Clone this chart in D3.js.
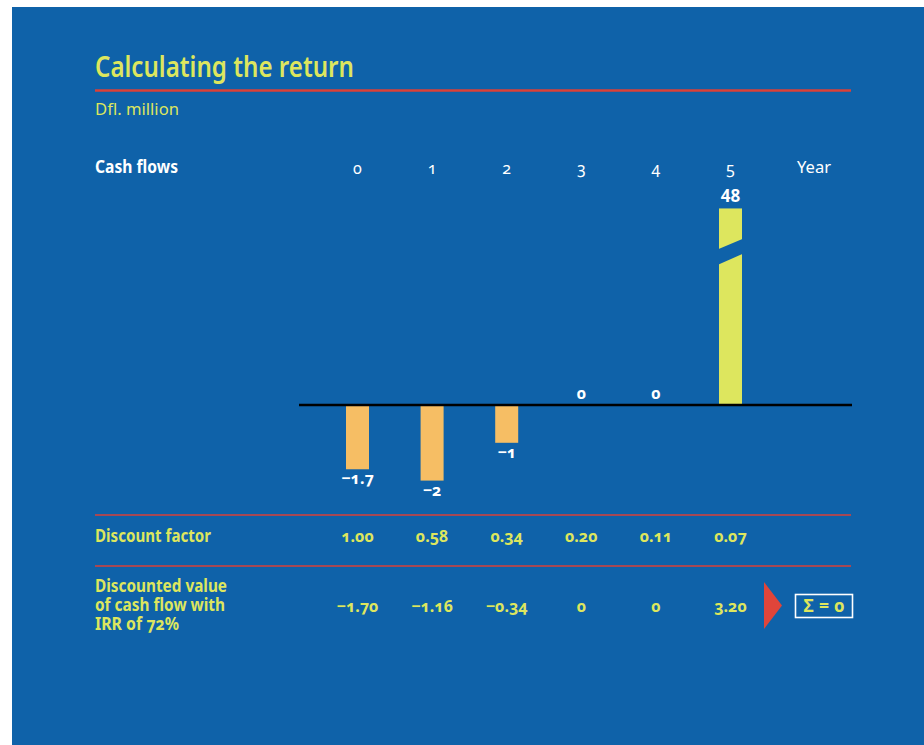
<!DOCTYPE html>
<html>
<head>
<meta charset="utf-8">
<script src="https://d3js.org/d3.v7.min.js"></script>
<style>
  body { margin: 0; background: #fff; }
  svg { display: block; }
  text { font-family: "Noto Sans", "Open Sans", sans-serif; }
  .num { font-feature-settings: "onum" 1; font-variant-numeric: oldstyle-nums; }
</style>
</head>
<body>
<div id="chart"></div>
<script>
// values
const years = [0, 1, 2, 3, 4, 5];
const cashFlows = [-1.7, -2, -1, 0, 0, 48];
const cashLabels = ["\u22121.7", "\u22122", "\u22121", "0", "0", "48"];
const discountFactors = ["1.00", "0.58", "0.34", "0.20", "0.11", "0.07"];
const discountedValues = ["\u22121.70", "\u22121.16", "\u22120.34", "0", "0", "3.20"];
const rowLines = ["Discounted value", "of cash flow with", "IRR of 72%"];
const barCap = 5.2;   // bars taller than this get a break

const colors = {
    bg: "#0f62a9",
    yellow: "#dde65e",
    orange: "#f6be64",
    red: "#db4138",
    white: "#ffffff"
};

class ReturnVis {
    constructor(parentElement) {
        this.parentElement = parentElement;
        this.initVis();
    }

    // the reference uses a condensed face, so squeeze the wide labels
    addLabel(x, y, txt, opts) {
        const vis = this;
        const t = vis.svg.append("text")
            .attr("x", x)
            .attr("y", y)
            .attr("fill", opts.fill)
            .attr("font-size", opts.size)
            .attr("font-weight", opts.weight || 400)
            .text(txt);
        if (opts.len) {
            t.attr("textLength", opts.len).attr("lengthAdjust", "spacingAndGlyphs");
        }
        if (opts.cls) t.attr("class", opts.cls);
        return t;
    }

    initVis() {
        const vis = this;

        vis.width = 924;
        vis.height = 745;

        vis.svg = d3.select("#" + vis.parentElement)
            .append("svg")
            .attr("width", vis.width)
            .attr("height", vis.height);

        vis.svg.append("rect")
            .attr("x", 12)
            .attr("y", 7)
            .attr("width", vis.width - 12)
            .attr("height", vis.height - 7)
            .attr("fill", colors.bg);

        vis.left = 95;
        vis.right = 851;

        vis.x = d3.scalePoint().domain(years).range([357.5, 730.5]);
        vis.y = d3.scaleLinear().domain([0, 1]).range([405, 405 - 37.8]);

        // title block
        vis.addLabel(vis.left, 77, "Calculating the return",
            { fill: colors.yellow, size: 28.5, weight: 600, len: 259 });

        vis.svg.append("line")
            .attr("x1", vis.left).attr("x2", vis.right)
            .attr("y1", 90.5).attr("y2", 90.5)
            .attr("stroke", colors.red)
            .attr("stroke-width", 2.5);

        vis.addLabel(vis.left, 115, "Dfl. million",
            { fill: colors.yellow, size: 17, len: 84 });

        vis.addLabel(vis.left, 173, "Cash flows",
            { fill: colors.white, size: 17.5, weight: 700, len: 83 });

        vis.addLabel(797, 173, "Year",
            { fill: colors.white, size: 17, len: 34 });

        vis.addLabel(vis.left, 542, "Discount factor",
            { fill: colors.yellow, size: 17.5, weight: 700, len: 116 });

        const rowLens = [132, 130, 84];
        rowLines.forEach((line, i) => {
            vis.addLabel(vis.left, 592 + i * 19, line,
                { fill: colors.yellow, size: 17.5, weight: 700, len: rowLens[i], cls: "num" });
        });

        [515, 566].forEach(yy => {
            vis.svg.append("line")
                .attr("x1", vis.left).attr("x2", vis.right)
                .attr("y1", yy).attr("y2", yy)
                .attr("stroke", colors.red)
                .attr("stroke-width", 1.5);
        });

        vis.barGroup = vis.svg.append("g").attr("class", "bars");
        vis.labelGroup = vis.svg.append("g").attr("class", "labels");
        vis.tableGroup = vis.svg.append("g").attr("class", "table");

        vis.wrangleData();
    }

    wrangleData() {
        const vis = this;

        vis.displayData = years.map((yr, i) => ({
            year: yr,
            value: cashFlows[i],
            shown: Math.min(cashFlows[i], barCap),
            broken: cashFlows[i] > barCap,
            label: cashLabels[i],
            factor: discountFactors[i],
            discounted: discountedValues[i]
        }));

        vis.updateVis();
    }

    updateVis() {
        const vis = this;
        const barW = 23;

        // year header
        vis.labelGroup.selectAll(".year")
            .data(vis.displayData)
            .join("text")
            .attr("class", "year num")
            .attr("x", d => vis.x(d.year))
            .attr("y", 174)
            .attr("text-anchor", "middle")
            .attr("fill", colors.white)
            .attr("font-size", 16)
            .text(d => d.year);

        // bars
        const bars = vis.displayData.filter(d => d.value !== 0);
        vis.barGroup.selectAll(".bar")
            .data(bars)
            .join("rect")
            .attr("class", "bar")
            .attr("x", d => vis.x(d.year) - barW / 2)
            .attr("width", barW)
            .attr("y", d => vis.y(Math.max(0, d.shown)))
            .attr("height", d => Math.abs(vis.y(d.shown) - vis.y(0)))
            .attr("fill", d => d.value < 0 ? colors.orange : colors.yellow);

        // break marks on clipped bars
        vis.barGroup.selectAll(".break")
            .data(bars.filter(d => d.broken))
            .join("polygon")
            .attr("class", "break")
            .attr("fill", colors.bg)
            .attr("points", d => {
                const x0 = vis.x(d.year) - barW / 2 - 1;
                const x1 = vis.x(d.year) + barW / 2 + 1;
                const yc = vis.y(d.shown * 0.78);
                return [[x0, yc - 2.5], [x1, yc - 13], [x1, yc + 2], [x0, yc + 13]]
                    .map(p => p.join(",")).join(" ");
            });

        // zero line
        vis.barGroup.append("line")
            .attr("x1", vis.x(0) - 58.5)
            .attr("x2", vis.x(5) + 121.5)
            .attr("y1", vis.y(0))
            .attr("y2", vis.y(0))
            .attr("stroke", "#000")
            .attr("stroke-width", 2.5);

        // value labels
        vis.labelGroup.selectAll(".val")
            .data(vis.displayData)
            .join("text")
            .attr("class", d => d.broken ? "val" : "val num")
            .attr("x", d => vis.x(d.year))
            .attr("y", d => d.value < 0 ? vis.y(d.shown) + 15 : vis.y(d.shown) - 6.5)
            .attr("text-anchor", "middle")
            .attr("fill", colors.white)
            .attr("font-size", d => d.broken ? 17 : 16)
            .attr("font-weight", 700)
            .text(d => d.label);

        // discount factor row
        vis.tableGroup.selectAll(".factor")
            .data(vis.displayData)
            .join("text")
            .attr("class", "factor num")
            .attr("x", d => vis.x(d.year))
            .attr("y", 542)
            .attr("text-anchor", "middle")
            .attr("fill", colors.yellow)
            .attr("font-size", 16)
            .attr("font-weight", 700)
            .text(d => d.factor);

        // discounted value row
        vis.tableGroup.selectAll(".disc")
            .data(vis.displayData)
            .join("text")
            .attr("class", "disc num")
            .attr("x", d => vis.x(d.year))
            .attr("y", 612)
            .attr("text-anchor", "middle")
            .attr("fill", colors.yellow)
            .attr("font-size", 16)
            .attr("font-weight", 700)
            .text(d => d.discounted);

        // arrow and sum box
        const ax = vis.x(5) + 33.5;
        vis.tableGroup.append("polygon")
            .attr("points", `${ax},582 ${ax + 18},605.5 ${ax},629`)
            .attr("fill", "#e0453a");

        vis.tableGroup.append("rect")
            .attr("x", ax + 31.5)
            .attr("y", 594.5)
            .attr("width", 57)
            .attr("height", 23)
            .attr("fill", "none")
            .attr("stroke", colors.white)
            .attr("stroke-width", 1.6);

        vis.tableGroup.append("text")
            .attr("class", "num")
            .attr("x", ax + 60)
            .attr("y", 612)
            .attr("text-anchor", "middle")
            .attr("fill", colors.yellow)
            .attr("font-size", 17.5)
            .attr("font-weight", 700)
            .attr("textLength", 41)
            .attr("lengthAdjust", "spacing")
            .text("\u03a3 = 0");
    }
}

const myReturnVis = new ReturnVis("chart");
</script>
</body>
</html>
